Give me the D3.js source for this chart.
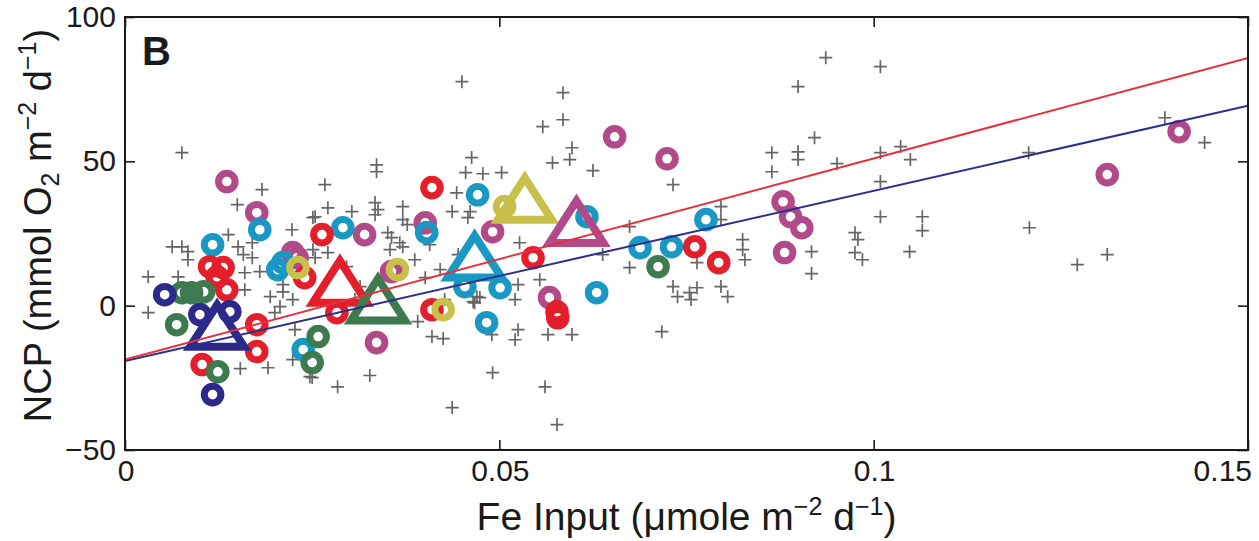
<!DOCTYPE html>
<html>
<head>
<meta charset="utf-8">
<script src="https://cdn.jsdelivr.net/npm/d3@7"></script>
<style>
    html, body { margin: 0; padding: 0; background: #fff; }
    svg text { font-family: 'Liberation Sans', Arial, Helvetica, sans-serif; fill: #1a1a1a; }
</style>
</head>
<body>
<div id="chart"></div>
<script>
// NCP vs Fe input, panel B

// gray crosses: [Fe input, NCP]
const crossPoints = [
    [0.0076, 53.0], [0.0450, 77.6], [0.0585, 73.8], [0.0585, 64.4], [0.0558, 62.0], [0.0597, 54.7], [0.0594, 50.6], [0.0571, 49.5],
    [0.0625, 46.8], [0.0732, 41.9], [0.0463, 51.3], [0.0455, 46.1], [0.0478, 45.7], [0.0503, 46.1], [0.0443, 39.1], [0.0437, 32.6],
    [0.0461, 32.6], [0.0458, 30.5], [0.0371, 34.3], [0.0371, 29.8], [0.0371, 20.4], [0.0527, 21.8], [0.0674, 27.4], [0.0638, 17.7],
    [0.0674, 13.2], [0.0554, 9.0], [0.0525, 7.3], [0.0521, 2.1], [0.0470, 3.1], [0.0467, 1.0], [0.0732, 6.6], [0.0754, 4.5],
    [0.0738, 3.1], [0.0936, 85.9], [0.1009, 82.8], [0.0899, 75.9], [0.0921, 58.2], [0.0864, 53.0], [0.0899, 53.3], [0.0899, 50.6],
    [0.0864, 46.4], [0.0951, 49.2], [0.1009, 53.0], [0.1036, 55.1], [0.1049, 50.6], [0.1009, 43.0], [0.1207, 53.0], [0.1389, 65.1],
    [0.1442, 56.5], [0.0796, 34.3], [0.0796, 29.8], [0.1009, 30.8], [0.1065, 30.8], [0.1065, 26.0], [0.1208, 27.0], [0.0825, 22.9],
    [0.0825, 19.4], [0.0828, 15.9], [0.0975, 25.3], [0.0979, 22.9], [0.0917, 18.7], [0.0917, 11.1], [0.0975, 18.4], [0.0985, 15.9],
    [0.1048, 18.7], [0.1272, 14.2], [0.1312, 17.7], [0.0764, 14.9], [0.0764, 6.2], [0.0756, 2.1], [0.0796, 6.6], [0.0805, 3.1],
    [0.0525, -8.3], [0.0521, -11.8], [0.0565, -10.0], [0.0597, -10.0], [0.0561, -28.1], [0.0577, -41.2], [0.0717, -9.0], [0.0410, -10.7],
    [0.0425, -11.4], [0.0327, -24.2], [0.0284, -28.1], [0.0437, -35.3], [0.0491, -23.2], [0.0490, -10.0], [0.0465, 1.4], [0.0474, 2.8],
    [0.0391, -5.5], [0.0247, -24.6], [0.0031, -2.4], [0.0154, -21.8], [0.0191, -21.5], [0.0194, 3.1], [0.0211, 4.8], [0.0224, 2.1],
    [0.0207, -0.3], [0.0200, -2.4], [0.0227, -8.3], [0.0160, 5.5], [0.0250, -24.9], [0.0224, -18.7], [0.0183, 40.2], [0.0150, 35.0],
    [0.0223, 26.3], [0.0251, 30.5], [0.0138, 24.6], [0.0063, 20.4], [0.0076, 20.4], [0.0084, 18.7], [0.0084, 15.9], [0.0151, 20.4],
    [0.0158, 17.7], [0.0170, 16.6], [0.0160, 11.4], [0.0180, 11.8], [0.0031, 10.0], [0.0071, 10.0], [0.0170, 21.8], [0.0211, 7.3],
    [0.0251, 19.4], [0.0336, 48.8], [0.0336, 46.4], [0.0267, 41.9], [0.0334, 35.7], [0.0338, 33.3], [0.0334, 31.5], [0.0271, 33.9],
    [0.0303, 32.6], [0.0254, 30.8], [0.0377, 28.1], [0.0351, 25.3], [0.0356, 23.6], [0.0367, 21.8], [0.0354, 19.4], [0.0271, 18.4],
    [0.0254, 16.6], [0.0296, 13.5], [0.0314, 6.6], [0.0307, 2.1], [0.0387, 15.9], [0.0401, 9.7], [0.0421, 12.5], [0.0445, 17.7],
    [0.0407, 21.1], [0.0427, 2.1]
];

// open circles, one array per group
const purpleCircles = [
    [0.0136, 43.0], [0.0176, 32.2], [0.0224, 18.4], [0.0230, 16.6], [0.0320, 24.6], [0.0401, 28.7], [0.0336, -12.8], [0.0654, 58.5],
    [0.0724, 50.9], [0.0567, 2.8], [0.0879, 36.0], [0.0889, 30.8], [0.0904, 27.0], [0.0881, 18.4], [0.1312, 45.4], [0.1408, 60.3],
    [0.0356, 11.8], [0.0491, 25.6]
];
const redCircles = [
    [0.0410, 40.9], [0.0263, 24.6], [0.0113, 13.5], [0.0131, 13.2], [0.0123, 10.0], [0.0136, 5.5], [0.0176, -6.6], [0.0176, -15.9],
    [0.0103, -20.4], [0.0240, 9.7], [0.0283, -2.4], [0.0410, -1.4], [0.0545, 16.6], [0.0577, -2.1], [0.0578, -4.2], [0.0761, 20.4],
    [0.0793, 14.9]
];
const cyanCircles = [
    [0.0117, 21.1], [0.0180, 26.3], [0.0291, 27.0], [0.0211, 14.9], [0.0204, 12.5], [0.0471, 38.4], [0.0617, 30.8], [0.0454, 6.6],
    [0.0501, 6.2], [0.0630, 4.5], [0.0483, -5.9], [0.0238, -15.2], [0.0403, 25.3], [0.0688, 20.1], [0.0730, 20.4], [0.0776, 29.8]
];
const greenCircles = [
    [0.0076, 4.5], [0.0089, 4.5], [0.0105, 4.8], [0.0069, -6.6], [0.0124, -22.9], [0.0258, -10.7], [0.0250, -19.7], [0.0712, 13.5]
];
const navyCircles = [
    [0.0053, 3.8], [0.0100, -3.1], [0.0140, -2.1], [0.0117, -30.8]
];
const oliveCircles = [
    [0.0231, 13.2], [0.0364, 12.5], [0.0425, -1.4], [0.0507, 34.3]
];

// group means (triangles)
const triangleGroups = ['navy', 'red', 'green', 'cyan', 'olive', 'purple'];
const triangleX = [0.0123, 0.0287, 0.0338, 0.0467, 0.0534, 0.0603];
const triangleY = [-7.0, 8.3, 2.1, 17.0, 37.0, 29.0];

// regression fits: NCP = intercept + slope * Fe
const fitNames = ['blue', 'red'];
const fitIntercepts = [-19.2, -18.7];
const fitSlopes = [590, 697];

// axes
const xTicks = [0, 0.05, 0.1, 0.15];
const xTickLabels = ['0', '0.05', '0.1', '0.15'];
const yTicks = [-50, 0, 50, 100];
const yTickLabels = ['\u221250', '0', '50', '100'];

const groupColors = {
    purple: '#b24a8a', red: '#e41f2b', cyan: '#1898c2',
    green: '#3d7a50', navy: '#2b2a8b', olive: '#c8c04a'
};
const fitColors = { blue: '#2d2f8e', red: '#e5313c' };

class ScatterPlot {

    constructor(_config) {
        this.config = {
            parentElement: _config.parentElement, containerWidth: 1259, containerHeight: 541,
            margin: { top: 17, right: 11, bottom: 91, left: 125 }
        }
        this.initVis();
    }

    initVis() {
        let vis = this;

        vis.width = vis.config.containerWidth - vis.config.margin.left - vis.config.margin.right;
        vis.height = vis.config.containerHeight - vis.config.margin.top - vis.config.margin.bottom;

        vis.xScale = d3.scaleLinear().domain([0, 0.15]).range([0, vis.width]);
        vis.yScale = d3.scaleLinear().domain([-50, 100]).range([vis.height, 0]);

        vis.svg = d3.select(vis.config.parentElement).append('svg')
            .attr('width', vis.config.containerWidth)
            .attr('height', vis.config.containerHeight);

        vis.chart = vis.svg.append('g')
            .attr('transform', `translate(${vis.config.margin.left},${vis.config.margin.top})`);

        // clip so marks stay inside the box
        vis.svg.append('defs').append('clipPath').attr('id', 'plot-clip')
            .append('rect').attr('width', vis.width).attr('height', vis.height);

        vis.marks = vis.chart.append('g').attr('clip-path', 'url(#plot-clip)');
        vis.crossG = vis.marks.append('g');
        vis.circleG = vis.marks.append('g');
        vis.triG = vis.marks.append('g');
        vis.lineG = vis.marks.append('g');

        // inward tick axes on all four sides
        const tickLen = 10;
        vis.chart.append('g')
            .attr('transform', `translate(0,${vis.height})`)
            .call(d3.axisBottom(vis.xScale).tickValues(xTicks).tickSize(-tickLen).tickFormat(''))
            .call(g => g.select('.domain').remove());
        vis.chart.append('g')
            .call(d3.axisTop(vis.xScale).tickValues(xTicks).tickSize(-tickLen).tickFormat(''))
            .call(g => g.select('.domain').remove());
        vis.chart.append('g')
            .call(d3.axisLeft(vis.yScale).tickValues(yTicks).tickSize(-tickLen).tickFormat(''))
            .call(g => g.select('.domain').remove());
        vis.chart.append('g')
            .attr('transform', `translate(${vis.width},0)`)
            .call(d3.axisRight(vis.yScale).tickValues(yTicks).tickSize(-tickLen).tickFormat(''))
            .call(g => g.select('.domain').remove());
        vis.chart.selectAll('.tick line').attr('stroke', '#1a1a1a').attr('stroke-width', 1.6);

        // box
        vis.chart.append('rect')
            .attr('width', vis.width).attr('height', vis.height)
            .attr('fill', 'none').attr('stroke', '#1a1a1a').attr('stroke-width', 2);

        // tick labels
        vis.chart.selectAll('.x-label')
            .data(xTicks)
            .join('text')
            .attr('class', 'x-label')
            .attr('x', (d, i) => i === xTicks.length - 1 ? vis.xScale(d) + 4 : vis.xScale(d) + 1)
            .attr('y', vis.height + 31)
            .attr('text-anchor', (d, i) => i === xTicks.length - 1 ? 'end' : 'middle')
            .style('font-size', '30px')
            .text((d, i) => xTickLabels[i]);

        vis.chart.selectAll('.y-label')
            .data(yTicks)
            .join('text')
            .attr('class', 'y-label')
            .attr('x', -9)
            .attr('y', d => vis.yScale(d) + 10)
            .attr('text-anchor', 'end')
            .style('font-size', '30px')
            .text((d, i) => yTickLabels[i]);

        // axis titles
        const xt = vis.chart.append('text')
            .attr('x', vis.width / 2)
            .attr('y', vis.height + 80)
            .attr('text-anchor', 'middle')
            .style('font-size', '39px');
        xt.append('tspan').text('Fe Input (\u03bcmole m');
        xt.append('tspan').attr('dy', -15).style('font-size', '25px').text('\u22122');
        xt.append('tspan').attr('dy', 15).text(' d');
        xt.append('tspan').attr('dy', -15).style('font-size', '25px').text('\u22121');
        xt.append('tspan').attr('dy', 15).text(')');

        const yt = vis.svg.append('text')
            .attr('transform', `translate(51,${vis.config.margin.top + vis.height / 2 - 8}) rotate(-90)`)
            .attr('text-anchor', 'middle')
            .style('font-size', '38px');
        yt.append('tspan').text('NCP (mmol O');
        yt.append('tspan').attr('dy', 8).style('font-size', '25px').text('2');
        yt.append('tspan').attr('dy', -8).text(' m');
        yt.append('tspan').attr('dy', -15).style('font-size', '25px').text('\u22122');
        yt.append('tspan').attr('dy', 15).text(' d');
        yt.append('tspan').attr('dy', -15).style('font-size', '25px').text('\u22121');
        yt.append('tspan').attr('dy', 15).text(')');

        // panel letter
        vis.chart.append('text')
            .attr('x', 17)
            .attr('y', 48)
            .style('font-size', '40px')
            .style('font-weight', 'bold')
            .text('B');
    }

    updateVis() {
        let vis = this;

        vis.circleData = [];
        const groups = { purple: purpleCircles, red: redCircles, cyan: cyanCircles, green: greenCircles, navy: navyCircles, olive: oliveCircles };
        // draw order roughly as in the figure
        ['purple', 'cyan', 'red', 'green', 'navy', 'olive'].forEach(g => {
            groups[g].forEach(p => vis.circleData.push({ group: g, x: p[0], y: p[1] }));
        });

        vis.triData = triangleGroups.map((g, i) => ({ group: g, x: triangleX[i], y: triangleY[i] }));

        vis.fitData = fitNames.map((n, i) => ({
            name: n,
            points: [0, 0.15].map(x => [x, fitIntercepts[i] + fitSlopes[i] * x])
        }));

        vis.renderVis();
    }

    renderVis() {
        let vis = this;
        const c = 6.5;

        vis.crossG.selectAll('.cross')
            .data(crossPoints)
            .join('path')
            .attr('class', 'cross')
            .attr('transform', d => `translate(${vis.xScale(d[0])},${vis.yScale(d[1])})`)
            .attr('d', `M${-c},0H${c}M0,${-c}V${c}`)
            .attr('stroke', '#666')
            .attr('stroke-width', 1.7)
            .attr('fill', 'none');

        vis.circleG.selectAll('.ring')
            .data(vis.circleData)
            .join('circle')
            .attr('class', 'ring')
            .attr('cx', d => vis.xScale(d.x))
            .attr('cy', d => vis.yScale(d.y))
            .attr('r', 8.3)
            .attr('fill', 'none')
            .attr('stroke', d => groupColors[d.group])
            .attr('stroke-width', 7);

        const hw = 27, hh = 21;
        vis.triG.selectAll('.tri')
            .data(vis.triData)
            .join('path')
            .attr('class', 'tri')
            .attr('transform', d => `translate(${vis.xScale(d.x)},${vis.yScale(d.y)})`)
            .attr('d', `M0,${-hh}L${hw},${hh}L${-hw},${hh}Z`)
            .attr('fill', 'none')
            .attr('stroke', d => groupColors[d.group])
            .attr('stroke-width', 8)
            .attr('stroke-linejoin', 'miter');

        const line = d3.line()
            .x(d => vis.xScale(d[0]))
            .y(d => vis.yScale(d[1]));

        vis.lineG.selectAll('.fit')
            .data(vis.fitData)
            .join('path')
            .attr('class', 'fit')
            .attr('d', d => line(d.points))
            .attr('fill', 'none')
            .attr('stroke', d => fitColors[d.name])
            .attr('stroke-width', 2);
    }
}

const scatterplot = new ScatterPlot({ parentElement: '#chart' });
scatterplot.updateVis();
</script>
</body>
</html>
